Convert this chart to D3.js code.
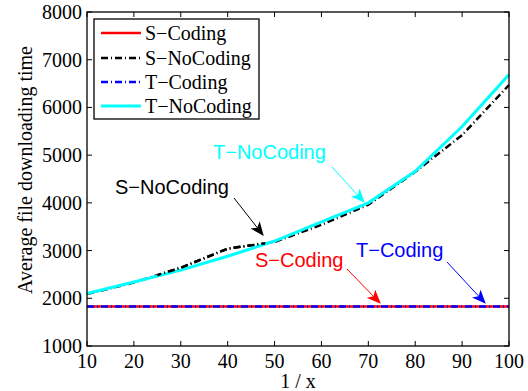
<!DOCTYPE html>
<html lang="en">
<head>
<meta charset="UTF-8">
<title>Average file downloading time</title>
<script src="https://d3js.org/d3.v7.min.js"></script>
<style>
  body { margin: 0; background: #fff; }
  svg { display: block; }
</style>
</head>
<body>
<div id="chart"></div>
<script>
const xs = [10, 20, 30, 40, 50, 60, 70, 80, 90, 100];
const sCoding = [1830, 1830, 1830, 1830, 1830, 1830, 1830, 1830, 1830, 1830];
const sNoCoding = [2090, 2330, 2640, 3040, 3180, 3540, 3960, 4650, 5420, 6470];
const tCoding = [1830, 1830, 1830, 1830, 1830, 1830, 1830, 1830, 1830, 1830];
const tNoCoding = [2100, 2340, 2590, 2880, 3200, 3600, 4000, 4660, 5600, 6690];
const xTicks = [10, 20, 30, 40, 50, 60, 70, 80, 90, 100];
const yTicks = [1000, 2000, 3000, 4000, 5000, 6000, 7000, 8000];

const w = 528, h = 391;
const m = {left: 87, right: 19, top: 12, bottom: 45};
const serif = "'Liberation Serif', 'Times New Roman', serif";
const sans = "'Liberation Sans', Arial, sans-serif";

const x = d3.scaleLinear().domain([10, 100]).range([m.left, w - m.right]);
const y = d3.scaleLinear().domain([1000, 8000]).range([h - m.bottom, m.top]);

const svg = d3.select("#chart").append("svg")
  .attr("width", w).attr("height", h);

// arrowhead markers
const defs = svg.append("defs");
["#000", "#00ffff", "#ff0000", "#0000ff"].forEach((c, i) => {
  defs.append("marker")
    .attr("id", "arr" + i)
    .attr("viewBox", "0 -5 12 10")
    .attr("refX", 11).attr("refY", 0)
    .attr("markerUnits", "userSpaceOnUse")
    .attr("markerWidth", 14).attr("markerHeight", 12)
    .attr("orient", "auto")
    .append("path")
    .attr("d", "M0,-5L12,0L0,5L3,0Z")
    .attr("fill", c);
});

const line = vals => d3.line()
  .x((d, i) => x(xs[i]))
  .y(d => y(d))(vals);

const series = [
  {name: "S\u2212Coding", vals: sCoding, color: "#ff0000", width: 2.5, dash: null},
  {name: "S\u2212NoCoding", vals: sNoCoding, color: "#000000", width: 2.5, dash: "7,3,1,3"},
  {name: "T\u2212Coding", vals: tCoding, color: "#0000ff", width: 2.5, dash: "7,3,1,3"},
  {name: "T\u2212NoCoding", vals: tNoCoding, color: "#00ffff", width: 3, dash: null}
];

// draw order: S-NoCoding under T-NoCoding, T-Coding over S-Coding
[series[0], series[2], series[1], series[3]].forEach(s => {
  svg.append("path")
    .attr("d", line(s.vals))
    .attr("fill", "none")
    .attr("stroke", s.color)
    .attr("stroke-width", s.width)
    .attr("stroke-dasharray", s.dash);
});
// black dashes show above cyan where it is below
defs.append("clipPath").attr("id", "clipBump")
  .append("rect")
  .attr("x", x(25)).attr("y", 0)
  .attr("width", x(48) - x(25)).attr("height", h);
svg.append("path")
  .attr("d", line(sNoCoding))
  .attr("fill", "none")
  .attr("stroke", "#000")
  .attr("stroke-width", 2.5)
  .attr("stroke-dasharray", "7,3,1,3")
  .attr("clip-path", "url(#clipBump)");

// frame with inward ticks
const g = svg.append("g").attr("fill", "none").attr("stroke", "#000").attr("stroke-width", 1);
g.append("rect")
  .attr("x", m.left).attr("y", m.top)
  .attr("width", w - m.left - m.right).attr("height", h - m.top - m.bottom)
  .attr("stroke-width", 1.3);
xTicks.forEach(t => {
  g.append("line").attr("x1", x(t)).attr("x2", x(t)).attr("y1", y(1000)).attr("y2", y(1000) - 5);
  g.append("line").attr("x1", x(t)).attr("x2", x(t)).attr("y1", y(8000)).attr("y2", y(8000) + 5);
});
yTicks.forEach(t => {
  g.append("line").attr("x1", x(10)).attr("x2", x(10) + 5).attr("y1", y(t)).attr("y2", y(t));
  g.append("line").attr("x1", x(100)).attr("x2", x(100) - 5).attr("y1", y(t)).attr("y2", y(t));
});

// tick labels
svg.append("g").selectAll("text").data(xTicks).join("text")
  .attr("x", d => x(d)).attr("y", h - m.bottom + 22)
  .attr("text-anchor", "middle")
  .style("font", `20px ${serif}`)
  .text(d => d);
svg.append("g").selectAll("text").data(yTicks).join("text")
  .attr("x", m.left - 5).attr("y", d => y(d) + 7)
  .attr("text-anchor", "end")
  .style("font", `20px ${serif}`)
  .text(d => d);

// axis titles
svg.append("text")
  .attr("x", (m.left + w - m.right) / 2).attr("y", h - 3)
  .attr("text-anchor", "middle")
  .style("font", `20px ${serif}`)
  .text("1 / x");
svg.append("text")
  .attr("transform", "translate(32,170) rotate(-90)")
  .attr("text-anchor", "middle")
  .style("font", `20px ${serif}`)
  .text("Average file downloading time");

// legend
const lg = svg.append("g").attr("transform", "translate(94,19)");
lg.append("rect").attr("width", 165).attr("height", 100)
  .attr("fill", "#fff").attr("stroke", "#000").attr("stroke-width", 1.3);
const rowY = [14, 39, 63, 87];
series.forEach((s, i) => {
  lg.append("line")
    .attr("x1", 7).attr("x2", 47).attr("y1", rowY[i]).attr("y2", rowY[i])
    .attr("stroke", s.color).attr("stroke-width", s.width)
    .attr("stroke-dasharray", s.dash);
  lg.append("text")
    .attr("x", 51).attr("y", rowY[i] + 7)
    .style("font", `20px ${serif}`)
    .text(s.name);
});

// annotations
const notes = [
  {text: "T\u2212NoCoding", color: "#00ffff", tx: 213, ty: 159, from: [332, 167], to: [364, 202], m: 1},
  {text: "S\u2212NoCoding", color: "#000000", tx: 115, ty: 194, from: [234, 198], to: [263, 235], m: 0},
  {text: "S\u2212Coding", color: "#ff0000", tx: 255, ty: 267, from: [347, 269], to: [380, 303], m: 2},
  {text: "T\u2212Coding", color: "#0000ff", tx: 356, ty: 257, from: [447, 262], to: [485, 303], m: 3}
];
notes.forEach(n => {
  svg.append("text")
    .attr("x", n.tx).attr("y", n.ty)
    .attr("fill", n.color)
    .style("font", `20px ${sans}`)
    .text(n.text);
  svg.append("line")
    .attr("x1", n.from[0]).attr("y1", n.from[1])
    .attr("x2", n.to[0]).attr("y2", n.to[1])
    .attr("stroke", n.color).attr("stroke-width", 1)
    .attr("marker-end", `url(#arr${n.m})`);
});
</script>
</body>
</html>
